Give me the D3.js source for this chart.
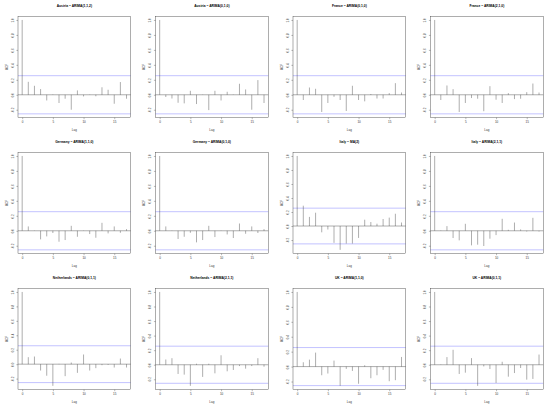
<!DOCTYPE html>
<html>
<head>
<meta charset="utf-8">
<script src="https://cdn.jsdelivr.net/npm/d3@7"></script>
<style>
  body { margin: 0; background: #fff; }
  text { font-family: "Liberation Sans", Arial, sans-serif; }
</style>
</head>
<body>
<svg id="chart" width="550" height="408"></svg>
<script>
// lags shown on every panel, and the tick labels
const lags = [0, 1, 2, 3, 4, 5, 6, 7, 8, 9, 10, 11, 12, 13, 14, 15, 16, 17];
const xTicks = [0, 5, 10, 15];
const yTicks = [-0.2, 0.0, 0.2, 0.4, 0.6, 0.8, 1.0];

const titles = [
  "Austria ~ ARIMA(1,1,2)", "Austria ~ ARIMA(0,1,0)", "France ~ ARIMA(0,1,0)", "France ~ ARIMA(2,1,0)",
  "Germany ~ ARIMA(1,1,0)", "Germany ~ ARIMA(0,1,0)", "Italy ~ MA(2)", "Italy ~ ARIMA(2,1,1)",
  "Netherlands ~ ARIMA(0,1,1)", "Netherlands ~ ARIMA(2,1,1)", "UK ~ ARIMA(1,1,0)", "UK ~ ARIMA(0,1,1)"
];

// residual autocorrelations
const acfAustria112 = [1, 0.173, 0.12, 0.076, -0.076, 0.004, -0.11, -0.053, -0.2, 0.058, -0.022, 0.003, -0.02, 0.10, 0.067, -0.12, 0.17, -0.053];
const acfAustria010 = [1, -0.03, -0.05, -0.107, -0.115, 0.053, -0.124, 0.003, -0.205, 0.053, -0.076, 0.04, 0.003, 0.147, 0.071, -0.2, 0.196, -0.11];
const acfFrance010  = [1, -0.07, 0.097, 0.08, -0.23, -0.11, -0.027, -0.07, -0.217, 0.12, -0.07, -0.088, 0.01, -0.05, -0.05, 0.022, 0.155, 0.03];
const acfFrance210  = [1, -0.07, 0.124, 0.075, -0.23, -0.11, -0.044, -0.053, -0.22, 0.115, -0.066, -0.11, 0.022, -0.058, -0.053, 0.035, 0.15, 0.03];
const acfGermany110 = [1, 0.058, 0.003, -0.115, -0.075, -0.03, -0.146, -0.124, 0.066, -0.08, 0.003, -0.044, -0.093, 0.106, -0.035, 0.058, -0.027, 0.022];
const acfGermany010 = [1, 0.058, 0.003, -0.11, -0.08, -0.027, -0.155, -0.124, 0.066, -0.084, 0.003, -0.049, -0.097, 0.097, -0.04, 0.058, -0.03, 0.022];
const acfItalyMA2   = [1, 0.29, 0.13, 0.19, -0.09, -0.05, -0.24, -0.34, -0.25, -0.25, -0.17, 0.09, 0.057, 0.033, 0.10, 0.12, 0.175, 0.05];
const acfItaly211   = [1, 0.004, 0.062, -0.097, -0.128, 0.093, -0.195, -0.186, -0.204, -0.106, -0.058, 0.16, 0.013, 0.11, 0.018, -0.01, 0.173, -0.01];
const acfNether011  = [1, 0.097, 0.106, -0.088, -0.16, -0.30, 0.004, -0.166, 0.023, -0.12, 0.134, -0.088, -0.055, -0.014, -0.01, -0.046, 0.078, -0.046];
const acfNether211  = [1, 0.072, 0.09, -0.127, -0.136, -0.29, 0.014, -0.167, 0.014, -0.118, 0.13, -0.09, -0.072, -0.018, -0.054, -0.018, 0.09, -0.027];
const acfUK110      = [1, 0.058, 0.093, 0.187, -0.116, -0.093, 0.08, -0.258, -0.031, -0.058, -0.23, 0.018, -0.156, -0.116, -0.044, -0.196, -0.182, 0.129];
const acfUK011      = [1, 0.004, 0.105, 0.205, -0.127, -0.109, 0.091, -0.29, -0.023, -0.059, -0.25, 0.041, -0.164, -0.114, -0.045, -0.205, -0.195, 0.14];

const ciBound = 0.255;

const series = [acfAustria112, acfAustria010, acfFrance010, acfFrance210,
                acfGermany110, acfGermany010, acfItalyMA2, acfItaly211,
                acfNether011, acfNether211, acfUK110, acfUK011];

const cols = 4, panelW = 550 / cols, panelH = 408 / 3;
const box = { left: 18, right: 130.7, top: 16.2, bottom: 117.6 };
const fmt = v => d3.format(".1f")(v).replace("\u2212", "-");
const ink = "#333";

const svg = d3.select("#chart");

series.forEach((acf, i) => {
  const g = svg.append("g")
    .attr("transform", `translate(${(i % cols) * panelW},${Math.floor(i / cols) * panelH})`);

  // R style limits: data range padded by 4%
  const [l0, l1] = d3.extent(lags);
  const xPad = (l1 - l0) * 0.04;
  const x = d3.scaleLinear().domain([l0 - xPad, l1 + xPad]).range([box.left, box.right]);

  const yMin = Math.min(d3.min(acf), -ciBound), yMax = Math.max(d3.max(acf), ciBound);
  const yPad = (yMax - yMin) * 0.04;
  const y = d3.scaleLinear().domain([yMin - yPad, yMax + yPad]).range([box.bottom, box.top]);

  // zero line
  g.append("line")
    .attr("x1", box.left).attr("x2", box.right)
    .attr("y1", y(0)).attr("y2", y(0))
    .attr("stroke", ink).attr("stroke-width", 0.4);

  // confidence bounds (dashes blur together at this size)
  g.selectAll(".ci")
    .data([ciBound, -ciBound])
    .enter().append("line")
      .attr("class", "ci")
      .attr("x1", box.left).attr("x2", box.right)
      .attr("y1", d => y(d)).attr("y2", d => y(d))
      .attr("stroke", "#7878ff").attr("stroke-width", 0.45);

  // spikes
  g.selectAll(".spike")
    .data(lags)
    .enter().append("line")
      .attr("class", "spike")
      .attr("x1", d => x(d)).attr("x2", d => x(d))
      .attr("y1", y(0)).attr("y2", (d, k) => y(acf[k]))
      .attr("stroke", ink).attr("stroke-width", 0.4);

  // axes
  const xAxis = g.append("g")
    .attr("transform", `translate(0,${box.bottom})`)
    .call(d3.axisBottom(x).tickValues(xTicks).tickFormat(d3.format("d")).tickSize(1.6).tickPadding(1.2));
  xAxis.select(".domain").remove();
  xAxis.selectAll("line").attr("stroke", ink).attr("stroke-width", 0.35);
  xAxis.selectAll("text").attr("font-size", 3).attr("fill", ink).attr("font-family", null);

  const yAxis = g.append("g")
    .attr("transform", `translate(${box.left},0)`)
    .call(d3.axisLeft(y).tickValues(yTicks).tickFormat(fmt).tickSize(1.6));
  yAxis.select(".domain").remove();
  yAxis.selectAll("line").attr("stroke", ink).attr("stroke-width", 0.35);
  yAxis.selectAll("text")
    .attr("font-size", 3).attr("fill", ink).attr("font-family", null)
    .attr("transform", "rotate(-90)")
    .attr("x", 0).attr("y", -4.4).attr("dy", 0)
    .style("text-anchor", "middle");

  // frame
  g.append("rect")
    .attr("x", box.left).attr("y", box.top)
    .attr("width", box.right - box.left).attr("height", box.bottom - box.top)
    .attr("fill", "none").attr("stroke", ink).attr("stroke-width", 0.4);

  g.append("text")
    .attr("x", (box.left + box.right) / 2).attr("y", 7)
    .attr("text-anchor", "middle").attr("font-size", 3.3).attr("font-weight", "bold")
    .text(titles[i]);

  g.append("text")
    .attr("x", (box.left + box.right) / 2).attr("y", 131)
    .attr("text-anchor", "middle").attr("font-size", 3).attr("fill", ink)
    .text("Lag");

  g.append("text")
    .attr("transform", `translate(7.6,${(box.top + box.bottom) / 2}) rotate(-90)`)
    .attr("text-anchor", "middle").attr("font-size", 3).attr("fill", ink)
    .text("ACF");
});
</script>
</body>
</html>
